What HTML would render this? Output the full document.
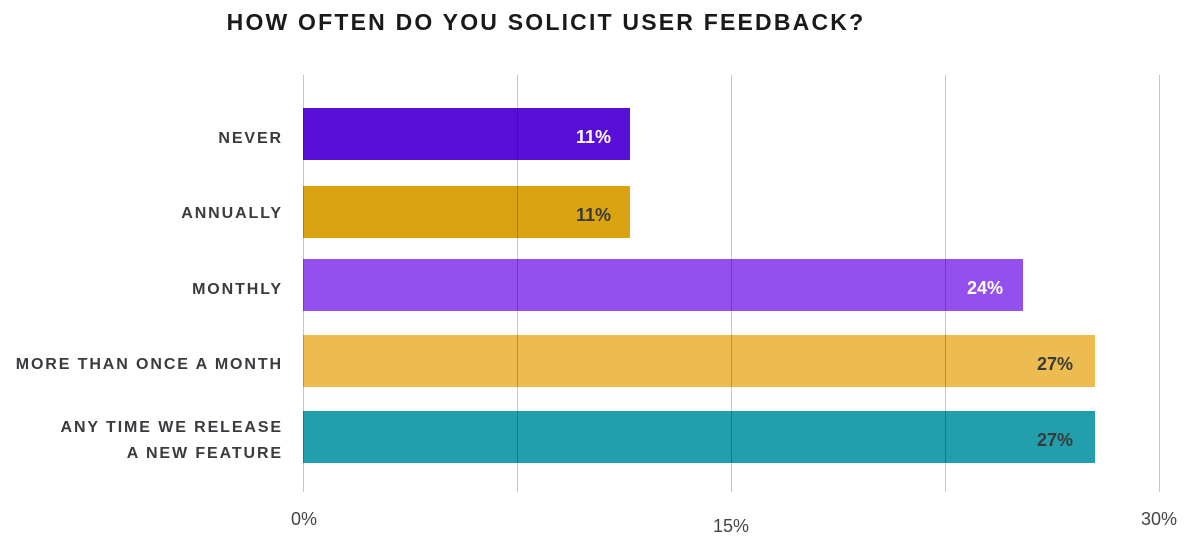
<!DOCTYPE html>
<html><head><meta charset="utf-8"><style>
html,body{margin:0;padding:0;background:#fff;}
svg{display:block;font-family:"Liberation Sans",sans-serif;}
.l{font-size:16px;font-weight:bold;fill:#3a3a3f;letter-spacing:1.9px;text-anchor:end;}
.v{font-size:18px;font-weight:bold;text-anchor:end;}
.a{font-size:18px;fill:#444;text-anchor:middle;}
</style></head><body>
<svg width="1201" height="548" viewBox="0 0 1201 548">
<text x="546" y="30" text-anchor="middle" font-size="23" font-weight="bold" fill="#1a1a1a" letter-spacing="2.2">HOW OFTEN DO YOU SOLICIT USER FEEDBACK?</text>
<rect x="303" y="108" width="327" height="52" fill="#5810d8"/>
<rect x="303" y="186" width="327" height="52" fill="#d9a312"/>
<rect x="303" y="259" width="720" height="52" fill="#9350ef"/>
<rect x="303" y="335" width="792" height="52" fill="#ecbc50"/>
<rect x="303" y="411" width="792" height="52" fill="#229ead"/>
<g stroke="#000" stroke-opacity="0.22" stroke-width="1">
<line x1="303.5" y1="75" x2="303.5" y2="492"/>
<line x1="517.5" y1="75" x2="517.5" y2="492"/>
<line x1="731.5" y1="75" x2="731.5" y2="492"/>
<line x1="945.5" y1="75" x2="945.5" y2="492"/>
<line x1="1159.5" y1="75" x2="1159.5" y2="492"/>
</g>
<text class="l" x="283" y="143">NEVER</text>
<text class="l" x="283" y="218">ANNUALLY</text>
<text class="l" x="283" y="294">MONTHLY</text>
<text class="l" x="283" y="369">MORE THAN ONCE A MONTH</text>
<text class="l" x="283" y="432">ANY TIME WE RELEASE</text>
<text class="l" x="283" y="458">A NEW FEATURE</text>
<text class="v" x="611" y="143" fill="#fff">11%</text>
<text class="v" x="611" y="221" fill="#3a3a3a">11%</text>
<text class="v" x="1003" y="294" fill="#fff">24%</text>
<text class="v" x="1073" y="370" fill="#3a3a3a">27%</text>
<text class="v" x="1073" y="446" fill="#3a3a3a">27%</text>
<text class="a" x="304" y="525">0%</text>
<text class="a" x="731" y="532">15%</text>
<text class="a" x="1159" y="525">30%</text>
</svg>
</body></html>
